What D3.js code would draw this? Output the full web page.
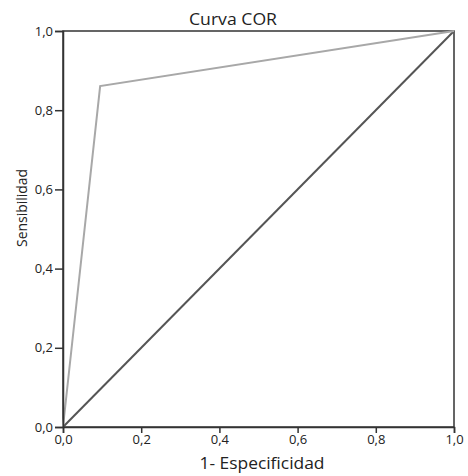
<!DOCTYPE html>
<html>
<head>
<meta charset="utf-8">
<script src="https://cdn.jsdelivr.net/npm/d3@7"></script>
<style>
  body { margin: 0; background: #fff; }
  text { font-family: "Open Sans", "Noto Sans", sans-serif; fill: #222; }
</style>
</head>
<body>
<script>
// ROC curve points (1 - specificity, sensitivity)
const rocX = [0, 0.095, 1];
const rocY = [0, 0.861, 1];
// reference diagonal
const refX = [0, 1];
const refY = [0, 1];
const tickVals = [0, 0.2, 0.4, 0.6, 0.8, 1.0];

const width = 468, height = 476;
const mLeft = 63, mRight = 454, mTop = 31, mBottom = 427;

const svg = d3.select('body').append('svg')
  .attr('width', width)
  .attr('height', height);

const x = d3.scaleLinear().domain([0, 1]).range([mLeft, mRight]);
const y = d3.scaleLinear().domain([0, 1]).range([mBottom, mTop]);

const fmt = d => d3.format('.1f')(d).replace('.', ',');

// frame
svg.append('rect')
  .attr('x', mLeft).attr('y', mTop)
  .attr('width', mRight - mLeft).attr('height', mBottom - mTop)
  .attr('fill', 'none').attr('stroke', '#333').attr('stroke-width', 1.5);

const line = d3.line().x(d => x(d[0])).y(d => y(d[1]));

svg.append('path')
  .datum(refX.map((v, i) => [v, refY[i]]))
  .attr('d', line)
  .attr('fill', 'none').attr('stroke', '#555').attr('stroke-width', 2);

svg.append('path')
  .datum(rocX.map((v, i) => [v, rocY[i]]))
  .attr('d', line)
  .attr('fill', 'none').attr('stroke', '#a8a8a8').attr('stroke-width', 2);

const xAxis = svg.append('g')
  .attr('transform', `translate(0,${mBottom})`)
  .call(d3.axisBottom(x).tickValues(tickVals).tickFormat(fmt).tickSize(6).tickPadding(2));
const yAxis = svg.append('g')
  .attr('transform', `translate(${mLeft},0)`)
  .call(d3.axisLeft(y).tickValues(tickVals).tickFormat(fmt).tickSize(8).tickPadding(2));

[xAxis, yAxis].forEach(g => {
  g.select('.domain').attr('stroke', '#333').attr('stroke-width', 1.5);
  g.selectAll('.tick line').attr('stroke', '#333').attr('stroke-width', 1.5);
  g.selectAll('.tick text').attr('font-size', 13).attr('fill', '#222');
});

svg.append('text')
  .attr('x', 233).attr('y', 25)
  .attr('text-anchor', 'middle').attr('font-size', 16)
  .attr('textLength', 88).attr('lengthAdjust', 'spacingAndGlyphs')
  .text('Curva COR');

svg.append('text')
  .attr('x', 262).attr('y', 469)
  .attr('text-anchor', 'middle').attr('font-size', 16)
  .attr('textLength', 125).attr('lengthAdjust', 'spacingAndGlyphs')
  .text('1- Especificidad');

svg.append('text')
  .attr('transform', 'translate(27,208) rotate(-90)')
  .attr('text-anchor', 'middle').attr('font-size', 15)
  .attr('textLength', 78).attr('lengthAdjust', 'spacingAndGlyphs')
  .text('Sensibilidad');
</script>
</body>
</html>
